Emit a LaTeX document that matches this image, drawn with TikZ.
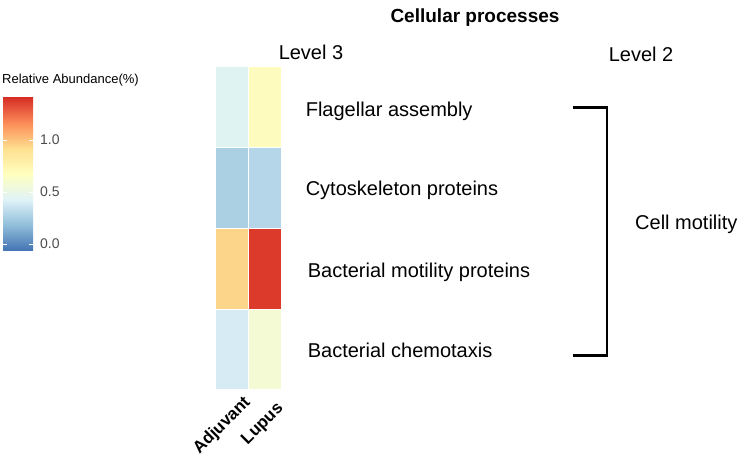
\documentclass[tikz,border=0pt]{standalone}
\usepackage{fontspec}
\setmainfont{Liberation Sans}
\usepackage{tikz}
\usetikzlibrary{positioning}
% colours of the heat map
\definecolor{bluezero}{HTML}{4575B4}
\definecolor{bluelow}{HTML}{91BFDB}
\definecolor{bluepale}{HTML}{E0F3F8}
\definecolor{yellowmid}{HTML}{FFFFBF}
\definecolor{orangelow}{HTML}{FEE090}
\definecolor{orangehigh}{HTML}{FC8D59}
\definecolor{redtop}{HTML}{D73027}
\pgfdeclareverticalshading{relabund}{100bp}{color(0bp)=(bluezero); color(25bp)=(bluezero);
  color(33.33bp)=(bluelow); color(41.67bp)=(bluepale); color(50bp)=(yellowmid);
  color(58.33bp)=(orangelow); color(66.67bp)=(orangehigh); color(75bp)=(redtop); color(100bp)=(redtop)}
\tikzset{
    %Define style for heat map cells
    cell/.style={
           rectangle,
           draw=none,
           inner sep=0pt,
           minimum width=32pt,
           minimum height=79.5pt},
    %Define style for text
    rowlabel/.style={
           anchor=west,
           inner sep=0pt,
           font=\fontsize{20}{24}\selectfont},
    header/.style={
           inner sep=0pt,
           font=\fontsize{20}{24}\selectfont},
    ticklabel/.style={
           anchor=west,
           inner sep=0pt,
           text=black!70,
           font=\fontsize{14}{16}\selectfont},
    collabel/.style={
           rotate=45,
           anchor=east,
           inner sep=0pt,
           font=\bfseries\fontsize{17}{20}\selectfont},
    colbar/.style={
           rectangle,
           inner sep=0pt,
           minimum width=30pt,
           minimum height=152pt,
           shading=relabund},
    brace/.style={
           line width=2.5pt,
           line cap=butt}
}
\begin{document}
\begin{tikzpicture}[x=1pt,y=-1pt]
\useasboundingbox (0,0) rectangle (743,457);
 %heat map
\node[cell, fill={rgb,255:red,224;green,243;blue,243}](a1) at (232,107){};
\node[cell, right=1pt of a1, fill={rgb,255:red,254;green,251;blue,191}](l1){};
\node[cell, below=1pt of a1, fill={rgb,255:red,171;green,208;blue,228}](a2){};
\node[cell, right=1pt of a2, fill={rgb,255:red,180;green,214;blue,232}](l2){};
\node[cell, below=1pt of a2, fill={rgb,255:red,253;green,213;blue,138}](a3){};
\node[cell, right=1pt of a3, fill={rgb,255:red,220;green,59;blue,44}](l3){};
\node[cell, below=1pt of a3, fill={rgb,255:red,214;green,235;blue,243}](a4){};
\node[cell, right=1pt of a4, fill={rgb,255:red,244;green,250;blue,211}](l4){};
 %row labels
\node[rowlabel, right=24pt of l1, yshift=-4pt](flag){Flagellar assembly};
\node[rowlabel, right=24pt of l2, yshift=-2pt](cyto){Cytoskeleton proteins};
\node[rowlabel, right=26pt of l3, yshift=-4pt](moti){Bacterial motility proteins};
\node[rowlabel, right=26pt of l4, yshift=-1pt](chem){Bacterial chemotaxis};
 %column labels
\node[collabel](adj) at (248,400){Adjuvant};
\node[collabel](lup) at (281,406){Lupus};
 %headers
\node[font=\bfseries\fontsize{19}{22}\selectfont, inner sep=0pt](title) at (475,18){Cellular processes};
\node[header](lvthree) at (311,52){Level 3};
\node[header](lvtwo) at (641,54){Level 2};
\node[rowlabel](motil) at (635,224){Cell motility};
 %bracket
\coordinate (brtop) at (573,107.7);
\coordinate (brbot) at (573,355.7);
\draw[brace] (brtop) -| ([xshift=34pt]brbot) -- (brbot);
 %legend
\node[anchor=west, inner sep=0pt, font=\fontsize{13}{15}\selectfont](legtitle) at (2,80){Relative Abundance(\%)};
\node[colbar](bar) at (18,174){};
\foreach \v/\y in {1.0/140,0.5/192,0.0/244}{
  \draw[white, line width=0.6pt] (3,\y) -- (7,\y) (29,\y) -- (33,\y);
  \node[ticklabel] at (40,\y){\v};
}
\end{tikzpicture}
\end{document}
